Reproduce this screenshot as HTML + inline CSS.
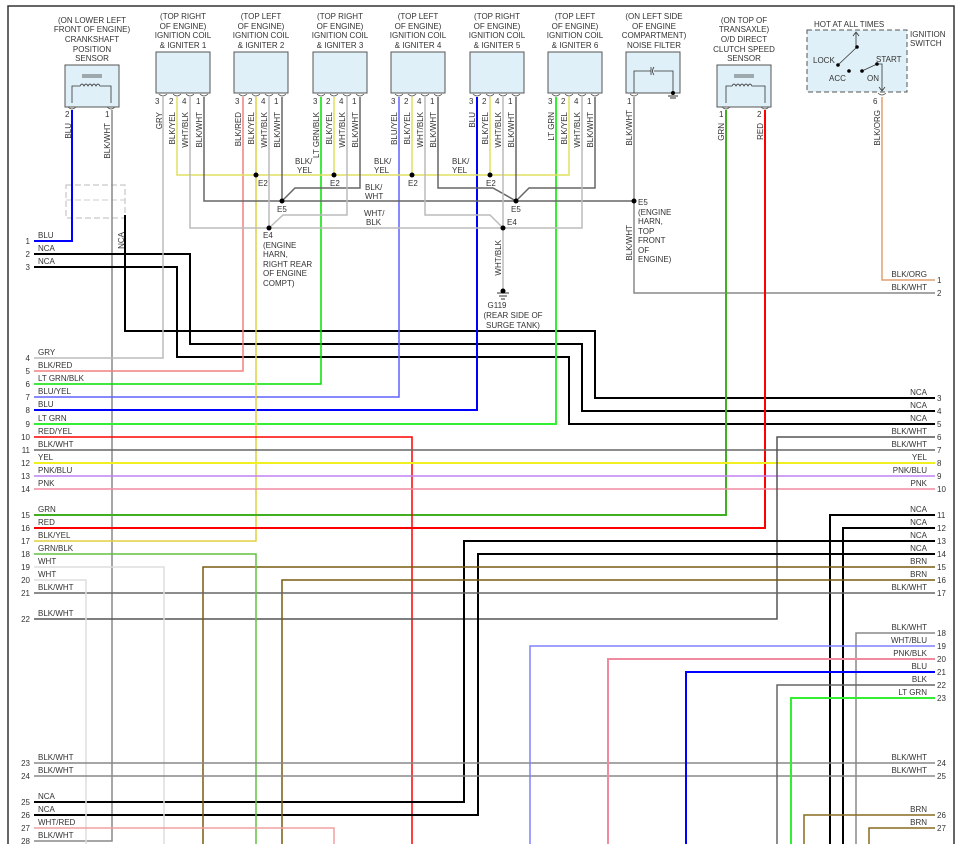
<!DOCTYPE html>
<html><head><meta charset="utf-8"><style>
html,body{margin:0;padding:0;background:#fff}
svg{display:block}
text{font-family:"Liberation Sans",sans-serif;font-size:8px;fill:#333}
.c{text-anchor:middle}
.e{text-anchor:end}
.w{fill:none;stroke-linejoin:miter}
</style></head><body>
<svg width="961" height="844" viewBox="0 0 961 844" xmlns="http://www.w3.org/2000/svg">
<path d="M8,844 V6 H954 V844" fill="none" stroke="#333" stroke-width="1.5"/>

<g class="c">
<text x="92" y="23" class="c">(ON LOWER LEFT</text><text x="92" y="32" class="c">FRONT OF ENGINE)</text><text x="92" y="42" class="c">CRANKSHAFT</text><text x="92" y="52" class="c">POSITION</text><text x="92" y="61" class="c">SENSOR</text>
<text x="183" y="19" class="c">(TOP RIGHT</text><text x="183" y="29" class="c">OF ENGINE)</text><text x="183" y="38" class="c">IGNITION COIL</text><text x="183" y="48" class="c">&amp; IGNITER 1</text>
<text x="261" y="19" class="c">(TOP LEFT</text><text x="261" y="29" class="c">OF ENGINE)</text><text x="261" y="38" class="c">IGNITION COIL</text><text x="261" y="48" class="c">&amp; IGNITER 2</text>
<text x="340" y="19" class="c">(TOP RIGHT</text><text x="340" y="29" class="c">OF ENGINE)</text><text x="340" y="38" class="c">IGNITION COIL</text><text x="340" y="48" class="c">&amp; IGNITER 3</text>
<text x="418" y="19" class="c">(TOP LEFT</text><text x="418" y="29" class="c">OF ENGINE)</text><text x="418" y="38" class="c">IGNITION COIL</text><text x="418" y="48" class="c">&amp; IGNITER 4</text>
<text x="497" y="19" class="c">(TOP RIGHT</text><text x="497" y="29" class="c">OF ENGINE)</text><text x="497" y="38" class="c">IGNITION COIL</text><text x="497" y="48" class="c">&amp; IGNITER 5</text>
<text x="575" y="19" class="c">(TOP LEFT</text><text x="575" y="29" class="c">OF ENGINE)</text><text x="575" y="38" class="c">IGNITION COIL</text><text x="575" y="48" class="c">&amp; IGNITER 6</text>
<text x="654" y="19" class="c">(ON LEFT SIDE</text><text x="654" y="29" class="c">OF ENGINE</text><text x="654" y="38" class="c">COMPARTMENT)</text><text x="654" y="48" class="c">NOISE FILTER</text>
<text x="744" y="23" class="c">(ON TOP OF</text><text x="744" y="32" class="c">TRANSAXLE)</text><text x="744" y="42" class="c">O/D DIRECT</text><text x="744" y="52" class="c">CLUTCH SPEED</text><text x="744" y="61" class="c">SENSOR</text>
</g>
<text x="814" y="27">HOT AT ALL TIMES</text>
<text x="910" y="37">IGNITION</text><text x="910" y="46">SWITCH</text>

<g fill="#dff0f8" stroke="#555" stroke-width="1">
<rect x="65" y="65" width="54" height="42"/>
<rect x="156" y="52" width="54" height="41"/>
<rect x="234" y="52" width="54" height="41"/>
<rect x="313" y="52" width="54" height="41"/>
<rect x="391" y="52" width="54" height="41"/>
<rect x="470" y="52" width="54" height="41"/>
<rect x="548" y="52" width="54" height="41"/>
<rect x="626" y="52" width="54" height="41"/>
<rect x="717" y="65" width="54" height="42"/>
<rect x="807" y="30" width="100" height="62" stroke-dasharray="5,3"/>
</g>
<g fill="none" stroke="#333" stroke-width="0.8">
<path d="M82,75 H102 M82,77 H102 M72,103 V86 H80 q2,-4 4,0 q2,-4 4,0 q2,-4 4,0 q2,-4 4,0 q2,-4 4,0 H111 V103"/>
<path d="M734,75 H754 M734,77 H754 M726,103 V86 H732 q2,-4 4,0 q2,-4 4,0 q2,-4 4,0 q2,-4 4,0 q2,-4 4,0 H765 V103"/>
<path d="M634,93 V71 H651 M651,67 V75 M654,67 q-3,4 0,8 M654,71 H673 V93"/>
<path d="M856,47 V33 M853,36 L856,32 L859,36 M857,47 L838,65 M862,71 L877,64 H882 V90 M879,87 L882,91 L885,87"/>
</g>
<g fill="#000"><circle cx="673" cy="93" r="2"/><circle cx="857" cy="47" r="1.8"/><circle cx="838" cy="65" r="1.8"/><circle cx="849" cy="71" r="1.8"/><circle cx="862" cy="71" r="1.8"/><circle cx="877" cy="64" r="1.8"/></g>
<path d="M668,96 H678 M670,98 H676" stroke="#333"/>
<text x="813" y="63">LOCK</text><text x="829" y="81">ACC</text><text x="876" y="62">START</text><text x="867" y="81">ON</text>
<g fill="none" stroke="#555" stroke-width="0.8">
<path d="M68,107 q4,4 8,0 M107,107 q4,4 8,0 M722,107 q4,4 8,0 M761,107 q4,4 8,0 M630,94 q4,4 8,0 M878,93 q4,4 8,0"/>
<path d="M159,94 q4,4 8,0 M173,94 q4,4 8,0 M186,94 q4,4 8,0 M200,94 q4,4 8,0"/>
<path d="M239,94 q4,4 8,0 M252,94 q4,4 8,0 M265,94 q4,4 8,0 M278,94 q4,4 8,0"/>
<path d="M317,94 q4,4 8,0 M330,94 q4,4 8,0 M343,94 q4,4 8,0 M356,94 q4,4 8,0"/>
<path d="M395,94 q4,4 8,0 M408,94 q4,4 8,0 M421,94 q4,4 8,0 M434,94 q4,4 8,0"/>
<path d="M473,94 q4,4 8,0 M486,94 q4,4 8,0 M499,94 q4,4 8,0 M512,94 q4,4 8,0"/>
<path d="M552,94 q4,4 8,0 M565,94 q4,4 8,0 M578,94 q4,4 8,0 M591,94 q4,4 8,0"/>
</g>
<g style="font-size:7px">
<text x="65" y="117">2</text><text x="105" y="117">1</text><text x="719" y="117">1</text><text x="757" y="117">2</text><text x="627" y="104">1</text><text x="873" y="104">6</text>
<text x="155" y="104">3</text><text x="169" y="104">2</text><text x="182" y="104">4</text><text x="196" y="104">1</text>
<text x="235" y="104">3</text><text x="248" y="104">2</text><text x="261" y="104">4</text><text x="274" y="104">1</text>
<text x="313" y="104">3</text><text x="326" y="104">2</text><text x="339" y="104">4</text><text x="352" y="104">1</text>
<text x="391" y="104">3</text><text x="404" y="104">2</text><text x="417" y="104">4</text><text x="430" y="104">1</text>
<text x="469" y="104">3</text><text x="482" y="104">2</text><text x="495" y="104">4</text><text x="508" y="104">1</text>
<text x="548" y="104">3</text><text x="561" y="104">2</text><text x="574" y="104">4</text><text x="587" y="104">1</text>
</g>

<rect x="66" y="185" width="59" height="33" fill="none" stroke="#bbb" stroke-dasharray="6,3"/>
<path d="M66,200 H125" stroke="#ccc" stroke-dasharray="6,3"/>

<g class="w" stroke-width="1.5">
<path d="M72,110 V241 H34" stroke="#0000ff" stroke-width="2"/>
<path d="M112,110 V841 H34" stroke="#888"/>
<path d="M125,215 V331 H595 V398 H935" stroke="#000" stroke-width="2"/>
<path d="M34,254 H190 V344 H582 V411 H935" stroke="#000" stroke-width="2"/>
<path d="M34,267 H177 V357 H569 V424 H935" stroke="#000" stroke-width="2"/>
<path d="M163,97 V358 H34" stroke="#bbb"/>
<path d="M243,97 V371 H34" stroke="#f08080"/>
<path d="M321,97 V384 H34" stroke="#00e000"/>
<path d="M399,97 V397 H34" stroke="#6060ff"/>
<path d="M477,97 V410 H34" stroke="#0000ff" stroke-width="2"/>
<path d="M556,97 V424 H34" stroke="#33ee33" stroke-width="2"/>
<path d="M177,97 V175 H569 V97 M334,97 V175 M412,97 V175 M490,97 V175" stroke="#e0e060"/>
<path d="M256,97 V541 H34" stroke="#e0d040"/>
<path d="M204,97 V201 H634 M282,97 V201 M360,97 V188 H295 L282,201 M438,97 V188 H493 L516,201 M516,97 V201 M595,97 V188 H529 L516,201" stroke="#666"/>
<path d="M634,97 V293 H935" stroke="#888"/>
<path d="M190,97 V228 H582 V97 M269,97 V228 M347,97 V215 H283 L269,228 M425,97 V215 H490 L503,228 M503,97 V290" stroke="#bbb"/>
<path d="M726,110 V515 H34" stroke="#40b020" stroke-width="2"/>
<path d="M765,110 V528 H34" stroke="#ff0000" stroke-width="2"/>
<path d="M882,97 V280 H935" stroke="#e0a070"/>
<path d="M34,437 H412 V844" stroke="#ff0000"/>
<path d="M34,450 H935" stroke="#666"/>
<path d="M34,463 H935" stroke="#f0f020" stroke-width="2"/>
<path d="M34,476 H935" stroke="#c080f0"/>
<path d="M34,489 H935" stroke="#f08aa0"/>
<path d="M935,437 H777 V619 H34" stroke="#555"/>
<path d="M935,515 H830 V844" stroke="#000" stroke-width="2"/>
<path d="M935,528 H843 V844" stroke="#000" stroke-width="2"/>
<path d="M935,541 H464 V802 H34" stroke="#000" stroke-width="2"/>
<path d="M935,554 H478 V815 H34" stroke="#000" stroke-width="2"/>
<path d="M935,567 H203 V844" stroke="#7a5a10"/>
<path d="M935,580 H282 V844" stroke="#7a5a10"/>
<path d="M935,593 H34" stroke="#666"/>
<path d="M34,554 H256 V844" stroke="#60c040"/>
<path d="M34,567 H164 V844" stroke="#ddd"/>
<path d="M34,580 H86 V844" stroke="#ddd"/>
<path d="M34,763 H935" stroke="#888"/>
<path d="M34,776 H935" stroke="#888"/>
<path d="M34,828 H334 V844" stroke="#f0a0a0"/>
<path d="M935,633 H856 V844" stroke="#888"/>
<path d="M935,646 H530 V844" stroke="#8080ff"/>
<path d="M935,659 H608 V844" stroke="#f08aa0" stroke-width="2"/>
<path d="M935,672 H686 V844" stroke="#0000ff" stroke-width="2"/>
<path d="M935,685 H777 V844" stroke="#666"/>
<path d="M935,698 H791 V844" stroke="#33ee33" stroke-width="2"/>
<path d="M935,815 H804 V844" stroke="#8a6a20"/>
<path d="M935,828 H869 V844" stroke="#8a6a20"/>
</g>
<path d="M497,293 H509 M499,296 H507 M501,299 H505" stroke="#333"/>
<g fill="#000">
<circle cx="256" cy="175" r="2.5"/><circle cx="334" cy="175" r="2.5"/><circle cx="412" cy="175" r="2.5"/><circle cx="490" cy="175" r="2.5"/>
<circle cx="282" cy="201" r="2.5"/><circle cx="516" cy="201" r="2.5"/><circle cx="634" cy="201" r="2.5"/>
<circle cx="269" cy="228" r="2.5"/><circle cx="503" cy="228" r="2.5"/><circle cx="503" cy="291" r="2.5"/>
</g>
<text x="258" y="186">E2</text><text x="330" y="186">E2</text><text x="408" y="186">E2</text><text x="486" y="186">E2</text>
<text x="277" y="212">E5</text><text x="511" y="212">E5</text><text x="638" y="205">E5</text>
<text x="263" y="238">E4</text><text x="507" y="225">E4</text>
<text x="295" y="164">BLK/</text><text x="297" y="173">YEL</text>
<text x="374" y="164">BLK/</text><text x="374" y="173">YEL</text>
<text x="452" y="164">BLK/</text><text x="452" y="173">YEL</text>
<text x="365" y="190">BLK/</text><text x="365" y="199">WHT</text>
<text x="364" y="216">WHT/</text><text x="366" y="225">BLK</text>
<text x="263" y="248">(ENGINE</text><text x="263" y="257">HARN,</text><text x="263" y="267">RIGHT REAR</text><text x="263" y="276">OF ENGINE</text><text x="263" y="286">COMPT)</text>
<text x="638" y="215">(ENGINE</text><text x="638" y="224">HARN,</text><text x="638" y="234">TOP</text><text x="638" y="243">FRONT</text><text x="638" y="253">OF</text><text x="638" y="262">ENGINE)</text>
<text x="497" y="308" class="c">G119</text><text x="513" y="318" class="c">(REAR SIDE OF</text><text x="513" y="328" class="c">SURGE TANK)</text>

<g class="e">
<text transform="translate(71,123) rotate(-90)" class="e">BLU</text>
<text transform="translate(110,123) rotate(-90)" class="e">BLK/WHT</text>
<text transform="translate(124,232) rotate(-90)" class="e">NCA</text>
<text transform="translate(162,112) rotate(-90)" class="e">GRY</text>
<text transform="translate(175,112) rotate(-90)" class="e">BLK/YEL</text>
<text transform="translate(188,112) rotate(-90)" class="e">WHT/BLK</text>
<text transform="translate(202,112) rotate(-90)" class="e">BLK/WHT</text>
<text transform="translate(241,112) rotate(-90)" class="e">BLK/RED</text>
<text transform="translate(254,112) rotate(-90)" class="e">BLK/YEL</text>
<text transform="translate(267,112) rotate(-90)" class="e">WHT/BLK</text>
<text transform="translate(280,112) rotate(-90)" class="e">BLK/WHT</text>
<text transform="translate(319,112) rotate(-90)" class="e">LT GRN/BLK</text>
<text transform="translate(332,112) rotate(-90)" class="e">BLK/YEL</text>
<text transform="translate(345,112) rotate(-90)" class="e">WHT/BLK</text>
<text transform="translate(358,112) rotate(-90)" class="e">BLK/WHT</text>
<text transform="translate(397,112) rotate(-90)" class="e">BLU/YEL</text>
<text transform="translate(410,112) rotate(-90)" class="e">BLK/YEL</text>
<text transform="translate(423,112) rotate(-90)" class="e">WHT/BLK</text>
<text transform="translate(436,112) rotate(-90)" class="e">BLK/WHT</text>
<text transform="translate(475,112) rotate(-90)" class="e">BLU</text>
<text transform="translate(488,112) rotate(-90)" class="e">BLK/YEL</text>
<text transform="translate(501,112) rotate(-90)" class="e">WHT/BLK</text>
<text transform="translate(514,112) rotate(-90)" class="e">BLK/WHT</text>
<text transform="translate(554,112) rotate(-90)" class="e">LT GRN</text>
<text transform="translate(567,112) rotate(-90)" class="e">BLK/YEL</text>
<text transform="translate(580,112) rotate(-90)" class="e">WHT/BLK</text>
<text transform="translate(593,112) rotate(-90)" class="e">BLK/WHT</text>
<text transform="translate(632,110) rotate(-90)" class="e">BLK/WHT</text>
<text transform="translate(632,225) rotate(-90)" class="e">BLK/WHT</text>
<text transform="translate(501,240) rotate(-90)" class="e">WHT/BLK</text>
<text transform="translate(724,123) rotate(-90)" class="e">GRN</text>
<text transform="translate(763,123) rotate(-90)" class="e">RED</text>
<text transform="translate(880,110) rotate(-90)" class="e">BLK/ORG</text>
</g>

<g>
<text x="38" y="238">BLU</text><text x="38" y="251">NCA</text><text x="38" y="264">NCA</text>
<text x="38" y="355">GRY</text><text x="38" y="368">BLK/RED</text><text x="38" y="381">LT GRN/BLK</text><text x="38" y="394">BLU/YEL</text><text x="38" y="407">BLU</text><text x="38" y="421">LT GRN</text><text x="38" y="434">RED/YEL</text><text x="38" y="447">BLK/WHT</text><text x="38" y="460">YEL</text><text x="38" y="473">PNK/BLU</text><text x="38" y="486">PNK</text>
<text x="38" y="512">GRN</text><text x="38" y="525">RED</text><text x="38" y="538">BLK/YEL</text><text x="38" y="551">GRN/BLK</text><text x="38" y="564">WHT</text><text x="38" y="577">WHT</text><text x="38" y="590">BLK/WHT</text><text x="38" y="616">BLK/WHT</text>
<text x="38" y="760">BLK/WHT</text><text x="38" y="773">BLK/WHT</text><text x="38" y="799">NCA</text><text x="38" y="812">NCA</text><text x="38" y="825">WHT/RED</text><text x="38" y="838">BLK/WHT</text>
</g>
<g class="e" style="font-size:7.5px">
<text x="30" y="244" class="e">1</text><text x="30" y="257" class="e">2</text><text x="30" y="270" class="e">3</text>
<text x="30" y="361" class="e">4</text><text x="30" y="374" class="e">5</text><text x="30" y="387" class="e">6</text><text x="30" y="400" class="e">7</text><text x="30" y="413" class="e">8</text><text x="30" y="427" class="e">9</text><text x="30" y="440" class="e">10</text><text x="30" y="453" class="e">11</text><text x="30" y="466" class="e">12</text><text x="30" y="479" class="e">13</text><text x="30" y="492" class="e">14</text>
<text x="30" y="518" class="e">15</text><text x="30" y="531" class="e">16</text><text x="30" y="544" class="e">17</text><text x="30" y="557" class="e">18</text><text x="30" y="570" class="e">19</text><text x="30" y="583" class="e">20</text><text x="30" y="596" class="e">21</text><text x="30" y="622" class="e">22</text>
<text x="30" y="766" class="e">23</text><text x="30" y="779" class="e">24</text><text x="30" y="805" class="e">25</text><text x="30" y="818" class="e">26</text><text x="30" y="831" class="e">27</text><text x="30" y="844" class="e">28</text>
</g>
<g class="e">
<text x="927" y="277" class="e">BLK/ORG</text><text x="927" y="290" class="e">BLK/WHT</text>
<text x="927" y="395" class="e">NCA</text><text x="927" y="408" class="e">NCA</text><text x="927" y="421" class="e">NCA</text><text x="927" y="434" class="e">BLK/WHT</text><text x="927" y="447" class="e">BLK/WHT</text><text x="927" y="460" class="e">YEL</text><text x="927" y="473" class="e">PNK/BLU</text><text x="927" y="486" class="e">PNK</text>
<text x="927" y="512" class="e">NCA</text><text x="927" y="525" class="e">NCA</text><text x="927" y="538" class="e">NCA</text><text x="927" y="551" class="e">NCA</text><text x="927" y="564" class="e">BRN</text><text x="927" y="577" class="e">BRN</text><text x="927" y="590" class="e">BLK/WHT</text>
<text x="927" y="630" class="e">BLK/WHT</text><text x="927" y="643" class="e">WHT/BLU</text><text x="927" y="656" class="e">PNK/BLK</text><text x="927" y="669" class="e">BLU</text><text x="927" y="682" class="e">BLK</text><text x="927" y="695" class="e">LT GRN</text>
<text x="927" y="760" class="e">BLK/WHT</text><text x="927" y="773" class="e">BLK/WHT</text><text x="927" y="812" class="e">BRN</text><text x="927" y="825" class="e">BRN</text>
</g>
<g style="font-size:7.5px">
<text x="937" y="283">1</text><text x="937" y="296">2</text>
<text x="937" y="401">3</text><text x="937" y="414">4</text><text x="937" y="427">5</text><text x="937" y="440">6</text><text x="937" y="453">7</text><text x="937" y="466">8</text><text x="937" y="479">9</text><text x="937" y="492">10</text>
<text x="937" y="518">11</text><text x="937" y="531">12</text><text x="937" y="544">13</text><text x="937" y="557">14</text><text x="937" y="570">15</text><text x="937" y="583">16</text><text x="937" y="596">17</text>
<text x="937" y="636">18</text><text x="937" y="649">19</text><text x="937" y="662">20</text><text x="937" y="675">21</text><text x="937" y="688">22</text><text x="937" y="701">23</text>
<text x="937" y="766">24</text><text x="937" y="779">25</text><text x="937" y="818">26</text><text x="937" y="831">27</text>
</g>
</svg>
</body></html>
